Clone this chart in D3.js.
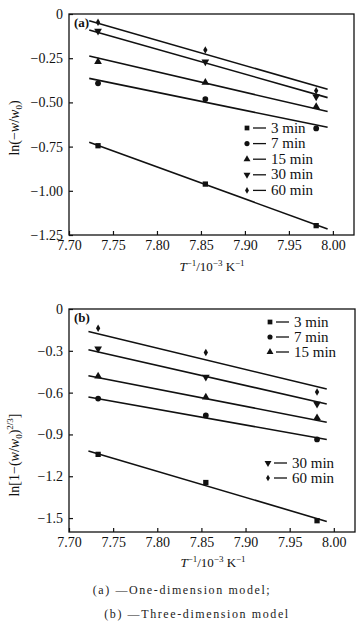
<!DOCTYPE html>
<html><head><meta charset="utf-8">
<script src="https://cdn.jsdelivr.net/npm/d3@7"></script>
<style>
html,body{margin:0;padding:0;background:#fff;}
svg{display:block;}
svg text{font-family:"Liberation Serif","Times New Roman","DejaVu Serif",serif !important;}
</style></head>
<body><svg id="c" width="363" height="630"></svg>
<script>
// ---- data ----
const seriesNames = ["3 min","7 min","15 min","30 min","60 min"];
const xValues = [7.733, 7.855, 7.981];           // T^-1 / 10^-3 K^-1
// panel (a): ln(-w/w0)
const a3  = [-0.745, -0.962, -1.197];
const a7  = [-0.392, -0.481, -0.647];
const a15 = [-0.270, -0.388, -0.524];
const a30 = [-0.096, -0.270, -0.468];
const a60 = [-0.047, -0.204, -0.434];
// fitted line end points for panel (a)
const aFitX = [7.723, 7.994];
const aFit3  = [-0.726, -1.216];
const aFit7  = [-0.364, -0.641];
const aFit15 = [-0.238, -0.552];
const aFit30 = [-0.090, -0.473];
const aFit60 = [-0.038, -0.426];
// panel (b): ln[1-(w/w0)^(2/3)]
const b3  = [-1.043, -1.245, -1.519];
const b7  = [-0.643, -0.764, -0.936];
const b15 = [-0.483, -0.633, -0.781];
const b30 = [-0.286, -0.488, -0.681];
const b60 = [-0.138, -0.312, -0.595];
const bFitX = [7.722, 7.992];
const bFit3  = [-1.019, -1.524];
const bFit7  = [-0.631, -0.936];
const bFit15 = [-0.479, -0.812];
const bFit30 = [-0.293, -0.681];
const bFit60 = [-0.162, -0.574];
// ticks
const xTicks = [7.70, 7.75, 7.80, 7.85, 7.90, 7.95, 8.00];
const aYTicks = [0, -0.25, -0.50, -0.75, -1.00, -1.25];
const bYTicks = [0, -0.3, -0.6, -0.9, -1.2, -1.5];

const FONT = "Liberation Serif, Times New Roman, DejaVu Serif, serif";
const svg = d3.select("#c");
const symbols = [d3.symbolSquare, d3.symbolCircle, d3.symbolTriangle, d3.symbolTriangle, d3.symbolDiamond];
const symRot = [0,0,0,180,0];
const symSize = [28, 26, 26, 26, 16];

function fmtMinus(s){ return s.replace("-", "\u2212"); }

function panel(opt){
  const g = svg.append("g").attr("font-family", FONT);
  const x = d3.scaleLinear().domain([7.70, 8.024]).range([opt.left, opt.right]);
  const y = d3.scaleLinear().domain(opt.yDomain).range([opt.bottom, opt.top]);
  g.append("rect").attr("x", opt.left).attr("y", opt.top)
    .attr("width", opt.right-opt.left).attr("height", opt.bottom-opt.top)
    .attr("fill","none").attr("stroke","#111").attr("stroke-width",1.3);
  const yAxis = d3.axisLeft(y).tickValues(opt.yTicks).tickSizeInner(-4).tickSizeOuter(0)
    .tickFormat(d => fmtMinus(opt.yFmt(d)));
  const ya = g.append("g").attr("transform",`translate(${opt.left},0)`).call(yAxis)
    .attr("font-family", FONT);
  ya.select(".domain").remove();
  ya.selectAll("line").attr("stroke","#111").attr("stroke-width",1.2);
  ya.selectAll("text").attr("x",-6).attr("font-size",14).attr("fill","#111");
  const xAxis = d3.axisBottom(x).tickValues(xTicks).tickSizeInner(-4).tickSizeOuter(0)
    .tickFormat(d3.format(".2f"));
  const xa = g.append("g").attr("transform",`translate(0,${opt.bottom})`).call(xAxis)
    .attr("font-family", FONT);
  xa.select(".domain").remove();
  xa.selectAll("line").attr("stroke","#111").attr("stroke-width",1.2);
  xa.selectAll("text").attr("y",5).attr("font-size",14).attr("fill","#111");
  opt.fits.forEach(f => {
    g.append("line").attr("x1",x(opt.fitX[0])).attr("y1",y(f[0]))
      .attr("x2",x(opt.fitX[1])).attr("y2",y(f[1]))
      .attr("stroke","#111").attr("stroke-width",1.6);
  });
  opt.series.forEach((s,i) => {
    s.forEach((v,j) => {
      g.append("path").attr("d", d3.symbol().type(symbols[i]).size(symSize[i])())
        .attr("transform",`translate(${x(xValues[j])},${y(v)}) rotate(${symRot[i]})`)
        .attr("fill","#111");
    });
  });
  g.append("text").attr("x",opt.left+5).attr("y",opt.top+13).attr("font-size",13)
    .attr("font-weight","bold").attr("fill","#111").text(opt.label);
  opt.legend.forEach(L => {
    L.idx.forEach((i,k) => {
      const yy = L.y + k*L.dy;
      g.append("path").attr("d", d3.symbol().type(symbols[i]).size(symSize[i]*0.8)())
        .attr("transform",`translate(${L.x},${yy}) rotate(${symRot[i]})`).attr("fill","#111");
      g.append("line").attr("x1",L.x+6).attr("x2",L.x+19).attr("y1",yy).attr("y2",yy)
        .attr("stroke","#111").attr("stroke-width",1.3);
      g.append("text").attr("x",L.x+24).attr("y",yy+4.5).attr("font-size",15)
        .attr("fill","#111").text(seriesNames[i]);
    });
  });
  const xl = g.append("text").attr("x",opt.xlx).attr("y",opt.xly).attr("text-anchor","middle")
    .attr("font-size",13).attr("fill","#111");
  xl.append("tspan").attr("font-style","italic").text("T");
  xl.append("tspan").attr("font-size",9).attr("dy",-5).text("\u22121");
  xl.append("tspan").attr("dy",5).text("/10");
  xl.append("tspan").attr("font-size",9).attr("dy",-5).text("\u22123");
  xl.append("tspan").attr("dy",5).text(" K");
  xl.append("tspan").attr("font-size",9).attr("dy",-5).text("\u22121");
  const yl = g.append("text").attr("transform",`translate(${opt.ylx},${opt.yly}) rotate(-90)`)
    .attr("text-anchor","middle").attr("font-size",14).attr("fill","#111");
  opt.ylab(yl);
}

panel({
  left:69, right:354, top:14, bottom:235, yDomain:[-1.25,0],
  yTicks:aYTicks, yFmt:d => d===0 ? "0" : d3.format(".2f")(d),
  fitX:aFitX, fits:[aFit3,aFit7,aFit15,aFit30,aFit60],
  series:[a3,a7,a15,a30,a60], label:"(a)",
  legend:[{x:247,y:128,dy:15.6,idx:[0,1,2,3,4]}],
  xlx:212, xly:271, ylx:19, yly:128,
  ylab: t => {
    t.append("tspan").text("ln(\u2212");
    t.append("tspan").attr("font-style","italic").text("w");
    t.append("tspan").text("/");
    t.append("tspan").attr("font-style","italic").text("w");
    t.append("tspan").attr("font-size",9).attr("dy",3).text("0");
    t.append("tspan").attr("dy",-3).text(")");
  }
});

panel({
  left:69, right:355, top:309, bottom:532, yDomain:[-1.6,0],
  yTicks:bYTicks, yFmt:d => d===0 ? "0" : d3.format(".1f")(d),
  fitX:bFitX, fits:[bFit3,bFit7,bFit15,bFit30,bFit60],
  series:[b3,b7,b15,b30,b60], label:"(b)",
  legend:[{x:270,y:322,dy:15,idx:[0,1,2]},{x:268,y:463,dy:15,idx:[3,4]}],
  xlx:213, xly:567, ylx:19, yly:455,
  ylab: t => {
    t.append("tspan").text("ln[1\u2212(");
    t.append("tspan").attr("font-style","italic").text("w");
    t.append("tspan").text("/");
    t.append("tspan").attr("font-style","italic").text("w");
    t.append("tspan").attr("font-size",9).attr("dy",3).text("0");
    t.append("tspan").attr("dy",-3).text(")");
    t.append("tspan").attr("font-size",9).attr("dy",-6).text("2/3");
    t.append("tspan").attr("dy",6).text("]");
  }
});

svg.append("text").attr("x",182).attr("y",594).attr("text-anchor","middle")
  .attr("font-family",FONT).attr("font-size",12).attr("letter-spacing",1.6).attr("fill","#222")
  .text("(a) \u2014One-dimension model;");
svg.append("text").attr("x",197).attr("y",618).attr("text-anchor","middle")
  .attr("font-family",FONT).attr("font-size",12).attr("letter-spacing",1.6).attr("fill","#222")
  .text("(b) \u2014Three-dimension model");
</script></body></html>
